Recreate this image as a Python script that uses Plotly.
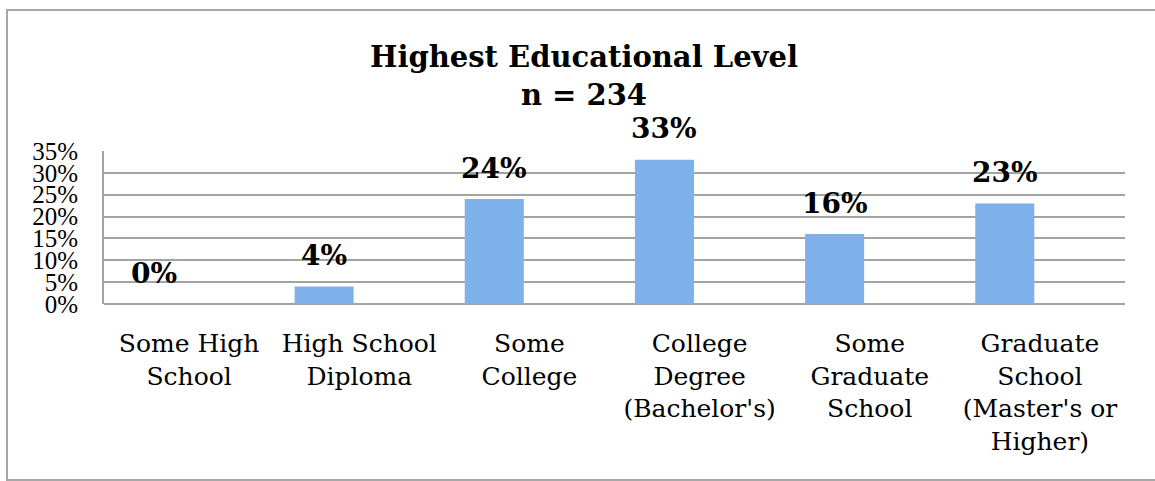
import plotly.graph_objects as go

categories = [
    "Some High<br>School",
    "High School<br>Diploma",
    "Some<br>College",
    "College<br>Degree<br>(Bachelor's)",
    "Some<br>Graduate<br>School",
    "Graduate<br>School<br>(Master's or<br>Higher)",
]
percent_values = [0, 4, 24, 33, 16, 23]
value_labels = ["0%", "4%", "24%", "33%", "16%", "23%"]
y_ticks = [0, 5, 10, 15, 20, 25, 30, 35]
y_tick_labels = ["0%", "5%", "10%", "15%", "20%", "25%", "30%", "35%"]
title_lines = ["Highest Educational Level", "n = 234"]

W, H = 1155, 481
# plot area in reference pixels: x 104..1125, y 151..304
L, R, T, B = 104, 1155 - 1125, 151, 481 - 304
plot_w = W - L - R
plot_h = H - T - B
cat_w = plot_w / len(categories)

BAR_OFFSET = -0.38
BAR_WIDTH = 0.347
GRID = "#a3a3a3"
SERIF = "Georgia, 'DejaVu Serif', serif"

fig = go.Figure()
fig.add_trace(go.Bar(
    x=categories,
    y=percent_values,
    offset=BAR_OFFSET,
    width=BAR_WIDTH,
    marker=dict(color="#7eb1ea", line=dict(width=0)),
    hoverinfo="skip",
    showlegend=False,
))

label_shift = (BAR_OFFSET + BAR_WIDTH / 2) * cat_w
for cat, val, lab in zip(categories, percent_values, value_labels):
    fig.add_annotation(
        x=cat, y=val, xref="x", yref="y", text=lab, showarrow=False,
        xshift=label_shift, yshift=31, yanchor="middle", xanchor="center",
        font=dict(family=SERIF, size=28, color="black", weight="bold"),
    )

# outer chart border (extends past right/bottom edges as in reference)
fig.add_shape(
    type="rect", xref="paper", yref="paper",
    x0=(7 - L) / plot_w, x1=1.1,
    y0=-(480 - (H - B)) / plot_h, y1=1 + (T - 10) / plot_h,
    line=dict(color="#a8a8a8", width=2), fillcolor="rgba(0,0,0,0)", layer="below",
)

fig.update_layout(
    width=W, height=H,
    margin=dict(l=L, r=R, t=T, b=B, pad=0),
    paper_bgcolor="white", plot_bgcolor="white",
    font=dict(family=SERIF, color="black"),
    title=dict(
        text="<b>" + "<br>".join(title_lines) + "</b>",
        x=584 / W, xref="container", xanchor="center",
        y=1 - 67 / H, yref="container", yanchor="top",
        font=dict(family=SERIF, size=29, color="black"),
    ),
)
fig.update_xaxes(
    type="category",
    showgrid=False, zeroline=False, showline=False,
    ticks="", ticklabelstandoff=22,
    tickfont=dict(family="'DejaVu Serif', serif", size=25, color="black"),
)
fig.update_yaxes(
    range=[0, 35], tickvals=y_ticks, ticktext=y_tick_labels,
    showgrid=True, gridcolor=GRID, gridwidth=2,
    zeroline=True, zerolinecolor=GRID, zerolinewidth=2,
    showline=True, linecolor=GRID, linewidth=2,
    ticks="", ticklabelstandoff=19,
    tickfont=dict(family="'Liberation Serif', serif", size=25, color="black"),
)

fig.write_html(
    "out.html",
    config={"displayModeBar": False},
    post_script="document.body.style.margin='0';",
)
